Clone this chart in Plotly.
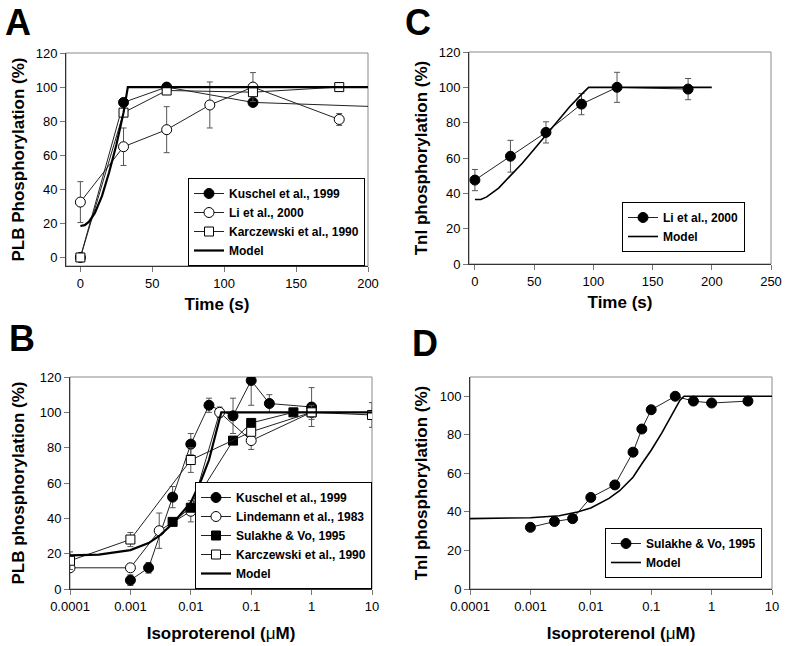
import plotly.graph_objects as go

# ---------------- Panel A: PLB phosphorylation vs time ----------------
a_kus_t = [0, 30, 60, 120, 240]
a_kus_y = [0, 91, 100, 91, 87.5]
a_li_t = [0, 30, 60, 90, 120, 180]
a_li_y = [32.5, 65, 75, 89.5, 100, 81]
a_li_err = [12, 11, 13.5, 13.5, 8.5, 3.5]
a_kar_t = [0, 30, 60, 120, 180]
a_kar_y = [0, 85, 98, 97, 100]
a_mod_t = [0, 3, 6, 10, 15, 20, 25, 30, 33, 200]
a_mod_y = [18.5, 19, 21, 26, 36, 50, 66, 85, 100, 100]

# ---------------- Panel B: PLB phosphorylation vs isoproterenol ----------------
b_kus_x = [0.001, 0.002, 0.005, 0.01, 0.02, 0.05, 0.1, 0.2, 1]
b_kus_y = [5, 12, 52, 82, 104, 98, 118, 105, 103]
b_kus_err = [3, 3, 6, 6, 4, 10, 14, 5, 11]
b_lin_x = [0.0001, 0.001, 0.003, 0.01, 0.03, 0.1, 1]
b_lin_y = [12, 12, 33, 44, 100, 84, 100]
b_lin_err = [0, 0, 10, 6, 3, 5, 0]
b_sul_x = [0.005, 0.01, 0.05, 0.1, 0.5, 1]
b_sul_y = [38, 46, 84, 94, 100, 100]
b_kar_x = [0.0001, 0.001, 0.01, 0.1, 1, 10]
b_kar_y = [16, 28, 73, 89, 100, 98.5]
b_kar_err = [5, 4, 7, 0, 4, 7]
b_mod_x = [0.0001, 0.0003, 0.001, 0.002, 0.003, 0.005, 0.01, 0.015, 0.02, 0.03, 0.032, 10]
b_mod_y = [19, 19.5, 22, 26, 30, 37, 49, 62, 73, 95, 100, 100]

# ---------------- Panel C: TnI phosphorylation vs time ----------------
c_li_t = [0, 30, 60, 90, 120, 180]
c_li_y = [47.5, 61, 74.5, 90.5, 100, 99]
c_li_err = [6, 9, 6, 6, 8.5, 6]
c_mod_t = [0, 5, 10, 20, 30, 40, 50, 60, 70, 80, 90, 96, 200]
c_mod_y = [36.5, 36.5, 38, 43, 50, 57, 65, 73, 81, 89, 96, 100, 100]

# ---------------- Panel D: TnI phosphorylation vs isoproterenol ----------------
d_sul_x = [0.001, 0.0025, 0.005, 0.01, 0.025, 0.05, 0.07, 0.1, 0.25, 0.5, 1, 4]
d_sul_y = [32, 35, 36.5, 47.5, 54, 71, 83, 93, 100, 97.5, 96.5, 97.5]
d_mod_x = [0.0001, 0.001, 0.003, 0.006, 0.01, 0.02, 0.03, 0.05, 0.07, 0.1, 0.15, 0.2, 0.3, 0.35, 10]
d_mod_y = [36.5, 37, 38, 40, 42, 47, 51, 58, 65, 72, 81, 88, 98, 100, 100]

log_ticks = [0.0001, 0.001, 0.01, 0.1, 1, 10]
log_labels = ["0.0001", "0.001", "0.01", "0.1", "1", "10"]

FONT = "Arial, 'Liberation Sans', sans-serif"
LINE = "#222222"
ERR = "#555555"

fig = go.Figure()


def data_trace(x, y, name, symbol, fill, xa, ya, legend, err=None):
    kw = {}
    if err is not None:
        kw["error_y"] = dict(type="data", array=err, visible=True,
                             color=ERR, thickness=1, width=3)
    fig.add_trace(go.Scatter(
        x=x, y=y, name=name, mode="lines+markers",
        line=dict(color=LINE, width=1),
        marker=dict(symbol=symbol, size=10 if "circle" in symbol else 9,
                    color=fill, line=dict(color="black", width=1)),
        xaxis=xa, yaxis=ya, legend=legend, **kw))


def model_trace(x, y, xa, ya, legend, width):
    fig.add_trace(go.Scatter(
        x=x, y=y, name="Model", mode="lines",
        line=dict(color="black", width=width),
        xaxis=xa, yaxis=ya, legend=legend))


# Panel A
data_trace(a_kus_t, a_kus_y, "Kuschel et al., 1999", "circle", "black", "x", "y", "legend")
data_trace(a_li_t, a_li_y, "Li et al., 2000", "circle", "white", "x", "y", "legend", a_li_err)
data_trace(a_kar_t, a_kar_y, "Karczewski et al., 1990", "square", "white", "x", "y", "legend")
model_trace(a_mod_t, a_mod_y, "x", "y", "legend", 2.2)

# Panel B
data_trace(b_kus_x, b_kus_y, "Kuschel et al., 1999", "circle", "black", "x2", "y2", "legend2", b_kus_err)
data_trace(b_lin_x, b_lin_y, "Lindemann et al., 1983", "circle", "white", "x2", "y2", "legend2", b_lin_err)
data_trace(b_sul_x, b_sul_y, "Sulakhe & Vo, 1995", "square", "black", "x2", "y2", "legend2")
data_trace(b_kar_x, b_kar_y, "Karczewski et al., 1990", "square", "white", "x2", "y2", "legend2", b_kar_err)
model_trace(b_mod_x, b_mod_y, "x2", "y2", "legend2", 2.2)

# Panel C
data_trace(c_li_t, c_li_y, "Li et al., 2000", "circle", "black", "x3", "y3", "legend3", c_li_err)
model_trace(c_mod_t, c_mod_y, "x3", "y3", "legend3", 1.6)

# Panel D
data_trace(d_sul_x, d_sul_y, "Sulakhe & Vo, 1995", "circle", "black", "x4", "y4", "legend4")
model_trace(d_mod_x, d_mod_y, "x4", "y4", "legend4", 1.6)

W, H = 786, 646


def dx(p0, p1):
    return [p0 / W, p1 / W]


def dy(top, bottom):
    return [1 - bottom / H, 1 - top / H]


axis_common = dict(showgrid=False, zeroline=False, showline=True, linecolor="#333333",
                   linewidth=1, mirror=False, ticks="outside", ticklen=5, tickcolor="#777777",
                   automargin=False,
                   tickfont=dict(family=FONT, size=13, color="black"))
title_font = dict(family=FONT, size=17, color="black", weight="bold")
MU = "Isoproterenol (<span style='font-weight:normal'>μ</span>M)"

fig.update_layout(
    width=W, height=H, margin=dict(l=0, r=0, t=0, b=0, autoexpand=False),
    paper_bgcolor="white", plot_bgcolor="white",
    font=dict(family=FONT, color="black"),
    xaxis=dict(domain=dx(66, 368), anchor="y", range=[-10, 200], tickvals=[0, 50, 100, 150, 200],
               title=dict(text="Time (s)", font=title_font, standoff=8), **axis_common),
    yaxis=dict(domain=dy(53, 266), anchor="x", range=[-5, 120], tickvals=[0, 20, 40, 60, 80, 100, 120],
               title=dict(text="PLB Phosphorylation (%)", font=title_font, standoff=6), **axis_common),
    xaxis2=dict(domain=dx(70, 372), anchor="y2", type="log", range=[-4, 1], tickvals=log_ticks,
                ticktext=log_labels, title=dict(text=MU, font=title_font, standoff=14), **axis_common),
    yaxis2=dict(domain=dy(377, 589), anchor="x2", range=[0, 120], tickvals=[0, 20, 40, 60, 80, 100, 120],
                title=dict(text="PLB phosphorylation (%)", font=title_font, standoff=10), **axis_common),
    xaxis3=dict(domain=dx(469, 771), anchor="y3", range=[-5, 250], tickvals=[0, 50, 100, 150, 200, 250],
                title=dict(text="Time (s)", font=title_font, standoff=8), **axis_common),
    yaxis3=dict(domain=dy(52, 264), anchor="x3", range=[0, 120], tickvals=[0, 20, 40, 60, 80, 100, 120],
                title=dict(text="TnI phosphorylation (%)", font=title_font, standoff=6), **axis_common),
    xaxis4=dict(domain=dx(470, 772), anchor="y4", type="log", range=[-4, 1], tickvals=log_ticks,
                ticktext=log_labels, title=dict(text=MU, font=title_font, standoff=14), **axis_common),
    yaxis4=dict(domain=dy(377, 589), anchor="x4", range=[0, 110], tickvals=[0, 20, 40, 60, 80, 100],
                title=dict(text="TnI phosphorylation (%)", font=title_font, standoff=7), **axis_common),
    showlegend=True,
)

leg_common = dict(bgcolor="white", bordercolor="black", borderwidth=1,
                  font=dict(family=FONT, size=12, color="black", weight="bold"),
                  itemwidth=30, tracegroupgap=0, traceorder="normal")
fig.update_layout(
    legend=dict(x=365 / W, y=1 - 222 / H, xanchor="right", yanchor="middle", **leg_common),
    legend2=dict(x=372 / W, y=1 - 589 / H, xanchor="right", yanchor="bottom", **leg_common),
    legend3=dict(x=745 / W, y=1 - 227 / H, xanchor="right", yanchor="middle", **leg_common),
    legend4=dict(x=762 / W, y=1 - 553 / H, xanchor="right", yanchor="middle", **leg_common),
)

# Frame (top/right edges in light gray)
for xr, yr in [("x", "y"), ("x2", "y2"), ("x3", "y3"), ("x4", "y4")]:
    fig.add_shape(type="rect", xref=f"{xr} domain", yref=f"{yr} domain",
                  x0=0, x1=1, y0=0, y1=1, line=dict(color="#8a8a8a", width=1), layer="below")

# Panel letters
for letter, px, py in [("A", 3, 0), ("B", 7, 316), ("C", 403, 0), ("D", 410, 321)]:
    fig.add_annotation(text=f"<b>{letter}</b>", xref="paper", yref="paper",
                       x=px / W, y=1 - py / H, xanchor="left", yanchor="top", showarrow=False,
                       font=dict(family=FONT, size=36, color="black"))

fig.write_html("out.html", config={"displayModeBar": False},
               post_script="document.body.style.margin='0';")
